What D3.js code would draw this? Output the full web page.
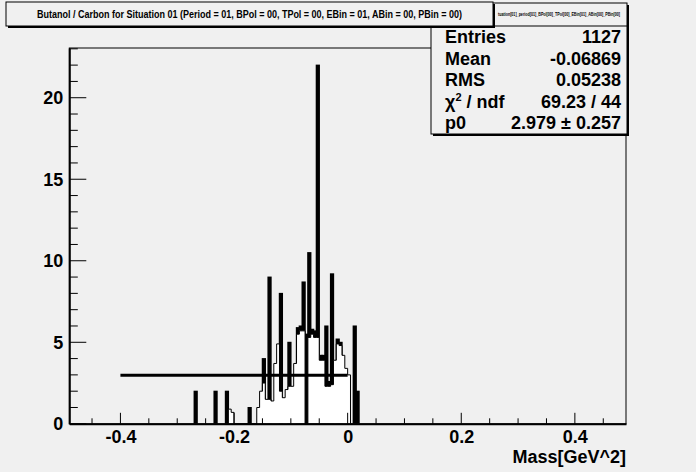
<!DOCTYPE html>
<html>
<head>
<meta charset="utf-8">
<script src="https://cdn.jsdelivr.net/npm/d3@7"></script>
<style>
  body { margin: 0; background: #f0f0f0; }
  text { font-family: "Liberation Sans", Arial, sans-serif; font-weight: bold; }
</style>
</head>
<body>
<div id="chart"></div>
<script>
// bin lower edges (GeV^2) and contents, bin width 0.005
var binWidth = 0.005
var ratioLow = [-0.270, -0.235, -0.215, -0.175, -0.150, -0.140, -0.120, -0.105, -0.090, -0.085,
                -0.080, -0.075, -0.070, -0.065, -0.060, -0.055, -0.050, -0.045, -0.040, -0.035,
                -0.030, -0.020, -0.015, 0.010, 0.015]
var ratioVal = [2, 2, 2, 1, 4, 9, 8, 5, 5.9, 6.0,
                8.7, 5.5, 10.5, 5.8, 5.7, 22, 4.2, 4.2, 6, 2.6,
                9.2, 5.2, 5.0, 6, 2]

var whiteLow = [-0.210, -0.205, -0.160, -0.155, -0.150, -0.145, -0.140, -0.135, -0.130, -0.125,
                -0.120, -0.115, -0.110, -0.105, -0.100, -0.095, -0.090, -0.085, -0.080, -0.075,
                -0.070, -0.065, -0.060, -0.055, -0.050, -0.045, -0.040, -0.035, -0.030, -0.025,
                -0.020, -0.015, -0.010, -0.005, 0.000]
var whiteVal = [0.9, 0.7, 1.0, 2.0, 2.5, 1.5, 1.5, 1.4, 3.7, 4.9,
                2.0, 1.6, 2.1, 2.3, 2.3, 3.7, 5.5, 5.7, 5.7, 0,
                5.3, 5.5, 5.3, 5.3, 3.9, 3.9, 2.3, 2.3, 2.4, 3.9,
                4.9, 4.8, 4.2, 3.4, 3.0]

// constant fit
var fitRange = [-0.4, 0.0]
var fitP0 = 2.979

var xTicks = [-0.4, -0.2, 0, 0.2, 0.4]
var yTicks = [0, 5, 10, 15, 20]

var statNames = ["Entries", "Mean", "RMS", "chi2", "p0"]
var statValues = ["1127", "-0.06869", "0.05238", "69.23 / 44", "2.979 \u00b1 0.257"]

var width = 696, height = 472
var grey = "#f0f0f0"

var svg = d3.select("#chart").append("svg")
    .attr("width", width)
    .attr("height", height)

svg.append("rect").attr("width", width).attr("height", height).attr("fill", grey)

var x = d3.scaleLinear().domain([-0.49, 0.49]).range([69.3, 626])
var y = d3.scaleLinear().domain([0, 23.05]).range([423.8, 48])

// step outline of a histogram from sparse bins
function stepPath(lows, vals) {
    var pts = []
    var order = d3.range(lows.length).sort(function(a, b) { return lows[a] - lows[b] })
    var prevEnd = null
    order.forEach(function(i) {
        var lo = lows[i], hi = lo + binWidth, v = vals[i]
        if (prevEnd === null || Math.abs(lo - prevEnd) > 1e-9) {
            if (prevEnd !== null) pts.push([x(prevEnd), y(0)])
            pts.push([x(lo), y(0)])
        }
        pts.push([x(lo), y(v)])
        pts.push([x(hi), y(v)])
        prevEnd = hi
    })
    pts.push([x(prevEnd), y(0)])
    return "M" + pts.map(function(p) { return p[0].toFixed(2) + "," + p[1].toFixed(2) }).join("L")
}

// black histogram (filled)
svg.append("g").selectAll("rect")
    .data(ratioLow.map(function(d, i) { return {lo: d, v: ratioVal[i]} }))
    .enter().append("rect")
    .attr("x", function(d) { return x(d.lo) - 0.7 })
    .attr("width", function(d) { return x(d.lo + binWidth) - x(d.lo) + 1.4 })
    .attr("y", function(d) { return y(d.v) - 0.5 })
    .attr("height", function(d) { return y(0) - y(d.v) + 0.5 })
    .attr("fill", "black")

// white histogram on top
svg.append("path")
    .attr("d", stepPath(whiteLow, whiteVal))
    .attr("fill", "white")
    .attr("stroke", "black")
    .attr("stroke-width", 1)

// fit line
svg.append("line")
    .attr("x1", x(fitRange[0])).attr("x2", x(fitRange[1]))
    .attr("y1", y(fitP0)).attr("y2", y(fitP0))
    .attr("stroke", "black").attr("stroke-width", 3)

// frame
svg.append("rect")
    .attr("x", x(-0.49)).attr("y", y(23.05))
    .attr("width", x(0.49) - x(-0.49)).attr("height", y(0) - y(23.05))
    .attr("fill", "none").attr("stroke", "black").attr("stroke-width", 1)

// x axis
var xAxis = d3.axisBottom(x).tickValues(xTicks).tickSize(0)
var gx = svg.append("g").attr("transform", "translate(0," + y(0) + ")").call(xAxis)
gx.select(".domain").attr("stroke-width", 2)
gx.selectAll("text").attr("font-size", 18).attr("dy", "0.9em").attr("fill", "black")
    .attr("font-family", "Liberation Sans, Arial, sans-serif").attr("font-weight", "bold")
    .text(function(d) { return d === 0 ? "0" : d3.format(".1f")(d).replace("\u2212", "-") })
var xMinor = d3.range(-45, 50, 5).map(function(d) { return d / 100 })
svg.append("g").selectAll("line").data(xMinor).enter().append("line")
    .attr("x1", function(d) { return x(d) }).attr("x2", function(d) { return x(d) })
    .attr("y1", y(0))
    .attr("y2", function(d) { return y(0) - (Math.abs(Math.round(d * 100)) % 20 === 0 ? 11 : 5.5) })
    .attr("stroke", "black").attr("stroke-width", 1)

svg.append("text").attr("x", 626).attr("y", 463).attr("text-anchor", "end")
    .attr("font-size", 18).text("Mass[GeV^2]")

// y axis
var yAxis = d3.axisLeft(y).tickValues(yTicks).tickSize(0).tickPadding(6)
var gy = svg.append("g").attr("transform", "translate(" + x(-0.49) + ",0)").call(yAxis)
gy.select(".domain").attr("stroke-width", 2)
gy.selectAll("text").attr("font-size", 18).attr("fill", "black")
    .attr("font-family", "Liberation Sans, Arial, sans-serif").attr("font-weight", "bold")
svg.append("g").selectAll("line").data(d3.range(0, 24)).enter().append("line")
    .attr("x1", x(-0.49))
    .attr("x2", function(d) { return x(-0.49) + (d % 5 === 0 ? 17 : 8.5) })
    .attr("y1", function(d) { return y(d) }).attr("y2", function(d) { return y(d) })
    .attr("stroke", "black").attr("stroke-width", 1)

// stats box
var sx = 431, sy = 3, sw = 196, sh = 131
svg.append("rect").attr("x", sx + 2).attr("y", sy + 2).attr("width", sw).attr("height", sh).attr("fill", "black")
svg.append("rect").attr("x", sx).attr("y", sy).attr("width", sw).attr("height", sh)
    .attr("fill", grey).attr("stroke", "black").attr("stroke-width", 1)
svg.append("line").attr("x1", sx).attr("x2", sx + sw).attr("y1", 26).attr("y2", 26).attr("stroke", "black")
svg.append("text").attr("x", 498).attr("y", 16)
    .attr("font-size", 5).attr("font-weight", "normal")
    .attr("textLength", 122).attr("lengthAdjust", "spacingAndGlyphs")
    .text("tuation[01]_period[01]_BPol[00]_TPol[00]_EBin[01]_ABin[00]_PBin[00]")
var rows = svg.append("g").selectAll("g").data(statNames).enter().append("g")
rows.append("text").attr("x", 445).attr("y", function(d, i) { return 43 + i * 21.5 })
    .attr("font-size", 18)
    .each(function(d) {
        var t = d3.select(this)
        if (d === "chi2") {
            t.append("tspan").text("\u03c7")
            t.append("tspan").attr("font-size", 11).attr("dy", -7).text("2")
            t.append("tspan").attr("dy", 7).text(" / ndf")
        } else {
            t.text(d)
        }
    })
rows.append("text").attr("x", 621).attr("y", function(d, i) { return 43 + i * 21.5 })
    .attr("text-anchor", "end").attr("font-size", 18).text(function(d, i) { return statValues[i] })

// title box
svg.append("rect").attr("x", 8).attr("y", 4).attr("width", 487).attr("height", 24).attr("fill", "black")
svg.append("rect").attr("x", 6).attr("y", 2).attr("width", 487).attr("height", 24)
    .attr("fill", grey).attr("stroke", "black").attr("stroke-width", 1)
svg.append("text").attr("x", 37).attr("y", 18).attr("font-size", 10)
    .attr("textLength", 425).attr("lengthAdjust", "spacingAndGlyphs")
    .text("Butanol / Carbon for Situation 01 (Period = 01, BPol = 00, TPol = 00, EBin = 01, ABin = 00, PBin = 00)")
</script>
</body>
</html>
